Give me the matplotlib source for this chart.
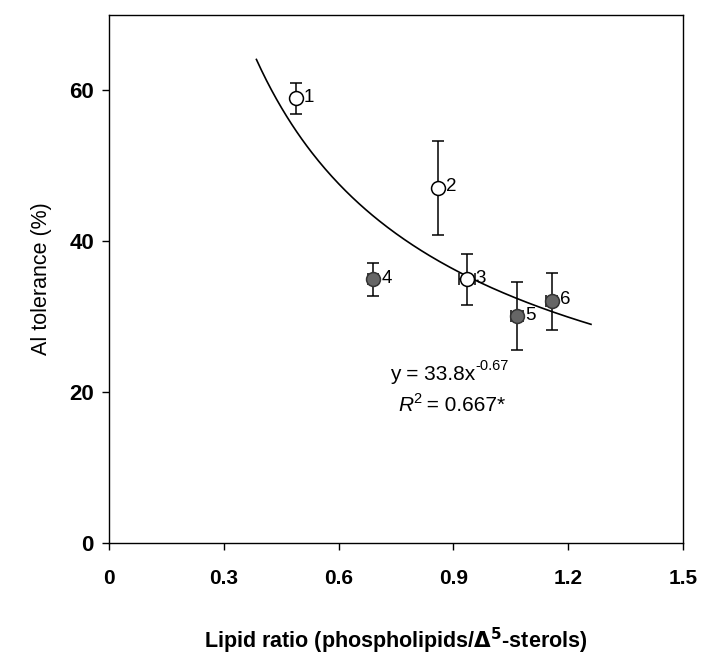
import matplotlib as mpl
import matplotlib.pyplot as plt
import numpy as np

mpl.rcParams.update(
    {
        "font.family": ["Liberation Sans", "DejaVu Sans"],
        "axes.linewidth": 1.0,
        "xtick.major.size": 5,
        "ytick.major.size": 5,
        "xtick.major.width": 1.0,
        "ytick.major.width": 1.0,
    }
)

# data
labels = ["1", "2", "3", "4", "5", "6"]
lipid_ratio = [0.488, 0.859, 0.936, 0.690, 1.066, 1.157]
ratio_err = [0.0, 0.0, 0.02, 0.012, 0.015, 0.015]
al_tol = [58.9, 47.0, 34.9, 34.9, 30.0, 32.0]
al_err = [2.1, 6.2, 3.4, 2.2, 4.5, 3.8]
open_pts = [True, True, True, False, False, False]

fit_a, fit_b = 33.8, -0.67
fit_range = (0.385, 1.26)

xticks = [0, 0.3, 0.6, 0.9, 1.2, 1.5]
xticklabels = ["0", "0.3", "0.6", "0.9", "1.2", "1.5"]
yticks = [0, 20, 40, 60]

fig = plt.figure(figsize=(7.09, 6.55), dpi=100)
ax = fig.add_axes([0.154, 0.1715, 0.809, 0.806])

xs = np.linspace(*fit_range, 200)
ax.plot(xs, fit_a * xs ** fit_b, color="black", lw=1.2, zorder=2)

for lab, x, xe, y, ye, op in zip(labels, lipid_ratio, ratio_err, al_tol, al_err, open_pts):
    ax.errorbar(x, y, yerr=ye, xerr=xe if xe > 0 else None, fmt="none",
                ecolor="black", elinewidth=1.1, capsize=4, capthick=1.1, zorder=3)
    ax.plot(x, y, "o", ms=10, mfc="white" if op else "#666666",
            mec="black" if op else "#333333", mew=1.1, zorder=4)
    ax.annotate(lab, (x, y), xytext=(6, 1), textcoords="offset points",
                ha="left", va="center", fontsize=13.5)

# fitted equation, superscripts drawn as their own small texts
eq = ax.annotate("y = 33.8x", (0.845, 22.3), ha="center", va="center", fontsize=15)
ax.annotate("-0.67", (1, 1), xycoords=eq, xytext=(0.5, 4),
            textcoords="offset points", ha="left", va="top", fontsize=10.5)
r_txt = ax.annotate("R", (0.775, 18.2), ha="center", va="center", fontsize=15,
                    style="italic")
sq = ax.annotate("2", (1, 1), xycoords=r_txt, xytext=(0, 3),
                 textcoords="offset points", ha="left", va="top", fontsize=10.5)
ax.annotate(" = 0.667*", (1, 0), xycoords=(sq, r_txt), xytext=(0, 0),
            textcoords="offset points", ha="left", va="bottom", fontsize=15)

ax.set_xlim(0, 1.5)
ax.set_ylim(0, 70)
ax.set_xticks(xticks, xticklabels)
ax.set_yticks(yticks)
ax.tick_params(axis="x", labelsize=15, pad=14)
ax.tick_params(axis="y", labelsize=16, pad=6)
for t in ax.get_xticklabels() + ax.get_yticklabels():
    t.set_fontweight("bold")

ax.set_xlabel(r"Lipid ratio (phospholipids/$\mathbf{\Delta}^{\mathbf{5}}$-sterols)",
              fontsize=15.5, fontweight="bold", labelpad=27)
ax.set_ylabel("Al tolerance (%)", fontsize=15.5, labelpad=12)

fig.savefig("out.png", dpi=100)
